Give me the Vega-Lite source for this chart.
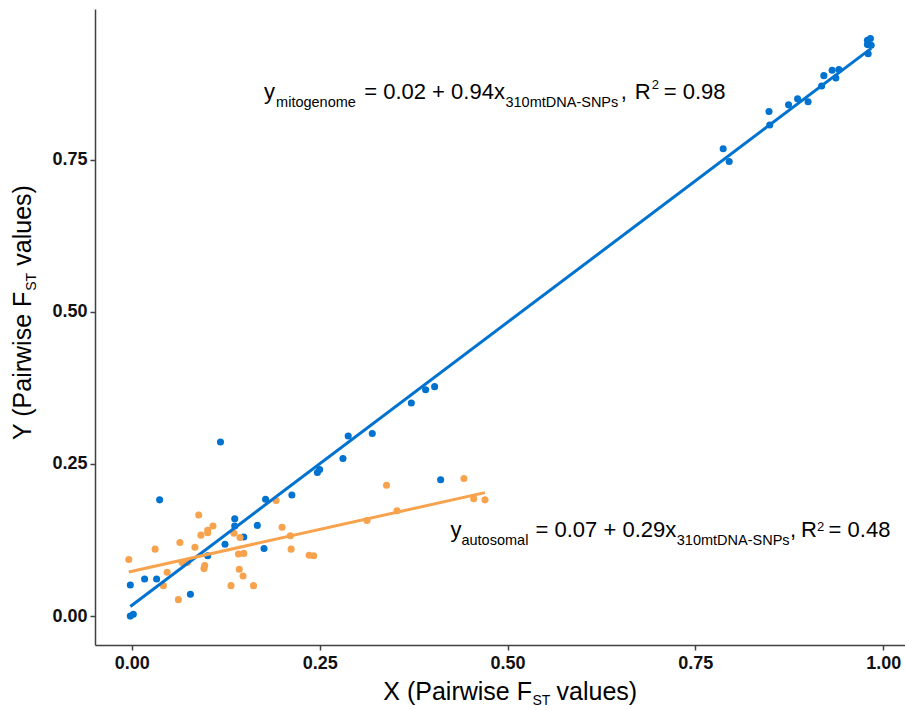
{
  "$schema": "https://vega.github.io/schema/vega-lite/v6.json",
  "width": 810,
  "height": 636,
  "autosize": {"type": "none"},
  "padding": {"left": 95, "top": 9, "right": 0, "bottom": 65},
  "background": "white",
  "config": {"view": {"stroke": null}},
  "datasets": {
    "pts": [
      {"g": "mitogenome", "x": -0.002, "y": 0.000},
      {"g": "mitogenome", "x": 0.002, "y": 0.003},
      {"g": "mitogenome", "x": -0.002, "y": 0.051},
      {"g": "mitogenome", "x": 0.017, "y": 0.061},
      {"g": "mitogenome", "x": 0.033, "y": 0.061},
      {"g": "mitogenome", "x": 0.037, "y": 0.191},
      {"g": "mitogenome", "x": 0.078, "y": 0.036},
      {"g": "mitogenome", "x": 0.101, "y": 0.099},
      {"g": "mitogenome", "x": 0.118, "y": 0.286},
      {"g": "mitogenome", "x": 0.124, "y": 0.118},
      {"g": "mitogenome", "x": 0.137, "y": 0.160},
      {"g": "mitogenome", "x": 0.137, "y": 0.148},
      {"g": "mitogenome", "x": 0.149, "y": 0.130},
      {"g": "mitogenome", "x": 0.167, "y": 0.149},
      {"g": "mitogenome", "x": 0.176, "y": 0.111},
      {"g": "mitogenome", "x": 0.178, "y": 0.192},
      {"g": "mitogenome", "x": 0.213, "y": 0.199},
      {"g": "mitogenome", "x": 0.247, "y": 0.236},
      {"g": "mitogenome", "x": 0.250, "y": 0.241},
      {"g": "mitogenome", "x": 0.281, "y": 0.259},
      {"g": "mitogenome", "x": 0.288, "y": 0.296},
      {"g": "mitogenome", "x": 0.320, "y": 0.300},
      {"g": "mitogenome", "x": 0.372, "y": 0.350},
      {"g": "mitogenome", "x": 0.391, "y": 0.372},
      {"g": "mitogenome", "x": 0.403, "y": 0.377},
      {"g": "mitogenome", "x": 0.411, "y": 0.224},
      {"g": "mitogenome", "x": 0.787, "y": 0.768},
      {"g": "mitogenome", "x": 0.795, "y": 0.747},
      {"g": "mitogenome", "x": 0.848, "y": 0.829},
      {"g": "mitogenome", "x": 0.849, "y": 0.807},
      {"g": "mitogenome", "x": 0.874, "y": 0.840},
      {"g": "mitogenome", "x": 0.886, "y": 0.850},
      {"g": "mitogenome", "x": 0.900, "y": 0.845},
      {"g": "mitogenome", "x": 0.918, "y": 0.871},
      {"g": "mitogenome", "x": 0.921, "y": 0.888},
      {"g": "mitogenome", "x": 0.932, "y": 0.897},
      {"g": "mitogenome", "x": 0.937, "y": 0.884},
      {"g": "mitogenome", "x": 0.941, "y": 0.898},
      {"g": "mitogenome", "x": 0.980, "y": 0.924},
      {"g": "mitogenome", "x": 0.979, "y": 0.939},
      {"g": "mitogenome", "x": 0.984, "y": 0.938},
      {"g": "mitogenome", "x": 0.979, "y": 0.946},
      {"g": "mitogenome", "x": 0.983, "y": 0.949},
      {"g": "autosomal", "x": 0.192, "y": 0.190},
      {"g": "autosomal", "x": 0.089, "y": 0.166},
      {"g": "autosomal", "x": 0.108, "y": 0.148},
      {"g": "autosomal", "x": 0.101, "y": 0.141},
      {"g": "autosomal", "x": 0.101, "y": 0.137},
      {"g": "autosomal", "x": 0.092, "y": 0.133},
      {"g": "autosomal", "x": 0.200, "y": 0.146},
      {"g": "autosomal", "x": 0.211, "y": 0.132},
      {"g": "autosomal", "x": 0.136, "y": 0.136},
      {"g": "autosomal", "x": 0.144, "y": 0.129},
      {"g": "autosomal", "x": 0.064, "y": 0.121},
      {"g": "autosomal", "x": 0.031, "y": 0.110},
      {"g": "autosomal", "x": 0.084, "y": 0.113},
      {"g": "autosomal", "x": 0.212, "y": 0.110},
      {"g": "autosomal", "x": 0.142, "y": 0.102},
      {"g": "autosomal", "x": 0.149, "y": 0.103},
      {"g": "autosomal", "x": 0.236, "y": 0.100},
      {"g": "autosomal", "x": 0.242, "y": 0.099},
      {"g": "autosomal", "x": -0.004, "y": 0.093},
      {"g": "autosomal", "x": 0.067, "y": 0.088},
      {"g": "autosomal", "x": 0.074, "y": 0.088},
      {"g": "autosomal", "x": 0.097, "y": 0.083},
      {"g": "autosomal", "x": 0.096, "y": 0.078},
      {"g": "autosomal", "x": 0.047, "y": 0.072},
      {"g": "autosomal", "x": 0.143, "y": 0.077},
      {"g": "autosomal", "x": 0.148, "y": 0.066},
      {"g": "autosomal", "x": 0.042, "y": 0.050},
      {"g": "autosomal", "x": 0.132, "y": 0.050},
      {"g": "autosomal", "x": 0.162, "y": 0.050},
      {"g": "autosomal", "x": 0.062, "y": 0.027},
      {"g": "autosomal", "x": 0.339, "y": 0.215},
      {"g": "autosomal", "x": 0.442, "y": 0.226},
      {"g": "autosomal", "x": 0.455, "y": 0.193},
      {"g": "autosomal", "x": 0.470, "y": 0.191},
      {"g": "autosomal", "x": 0.353, "y": 0.173},
      {"g": "autosomal", "x": 0.313, "y": 0.157}
    ],
    "labels": [
      {"t": "y", "x": 0.176, "y": 0.8503, "k": "main"},
      {"t": "mitogenome", "x": 0.192, "y": 0.8372, "k": "sub"},
      {"t": "= 0.02 + 0.94x", "x": 0.3093, "y": 0.8503, "k": "main"},
      {"t": "310mtDNA-SNPs", "x": 0.4973, "y": 0.8372, "k": "sub"},
      {"t": ",", "x": 0.6507, "y": 0.8503, "k": "main"},
      {"t": "R", "x": 0.6693, "y": 0.8503, "k": "main"},
      {"t": "2", "x": 0.692, "y": 0.866, "k": "sup"},
      {"t": "= 0.98", "x": 0.708, "y": 0.8503, "k": "main"},
      {"t": "y", "x": 0.424, "y": 0.1299, "k": "main"},
      {"t": "autosomal", "x": 0.4387, "y": 0.1168, "k": "sub"},
      {"t": "= 0.07 + 0.29x", "x": 0.5373, "y": 0.1299, "k": "main"},
      {"t": "310mtDNA-SNPs", "x": 0.7253, "y": 0.1168, "k": "sub"},
      {"t": ",", "x": 0.876, "y": 0.1299, "k": "main"},
      {"t": "R", "x": 0.8907, "y": 0.1299, "k": "main"},
      {"t": "2", "x": 0.912, "y": 0.1405, "k": "sup"},
      {"t": "= 0.48", "x": 0.9273, "y": 0.1299, "k": "main"},
      {"t": "X (Pairwise F", "x": 0.3347, "y": -0.1382, "k": "xt"},
      {"t": "ST", "x": 0.5333, "y": -0.1464, "k": "xts"},
      {"t": "values)", "x": 0.5653, "y": -0.1382, "k": "xt"},
      {"t": "Y (Pairwise F", "x": -0.1347, "y": 0.2895, "k": "yt"},
      {"t": "ST", "x": -0.128, "y": 0.5345, "k": "yts"},
      {"t": "values)", "x": -0.1347, "y": 0.5757, "k": "yt"}
    ]
  },
  "encoding": {
    "x": {
      "field": "x", "type": "quantitative",
      "scale": {"domain": [-0.049, 1.029], "nice": false, "zero": false},
      "axis": {
        "title": null, "values": [0, 0.25, 0.5, 0.75, 1], "format": ".2f", "grid": false,
        "labelFont": "Liberation Sans", "labelFontWeight": "bold", "labelFontSize": 18, "labelColor": "#111111",
        "labelPadding": 4, "tickSize": 5, "tickWidth": 1.5, "tickColor": "#404040",
        "domainColor": "#404040", "domainWidth": 1.5
      }
    },
    "y": {
      "field": "y", "type": "quantitative",
      "scale": {"domain": [-0.0475, 0.9975], "nice": false, "zero": false},
      "axis": {
        "title": null, "values": [0, 0.25, 0.5, 0.75], "format": ".2f", "grid": false,
        "labelFont": "Liberation Sans", "labelFontWeight": "bold", "labelFontSize": 18, "labelColor": "#111111",
        "labelPadding": 3, "tickSize": 5, "tickWidth": 1.5, "tickColor": "#404040",
        "domainColor": "#404040", "domainWidth": 1.5
      }
    }
  },
  "layer": [
    {
      "data": {"name": "pts"},
      "mark": {"type": "circle", "size": 50, "opacity": 1},
      "encoding": {
        "color": {"field": "g", "type": "nominal", "scale": {"domain": ["mitogenome", "autosomal"], "range": ["#0072D0", "#F7A24D"]}, "legend": null}
      }
    },
    {
      "data": {"name": "pts"},
      "transform": [{"regression": "y", "on": "x", "groupby": ["g"]}],
      "mark": {"type": "line", "strokeWidth": 3},
      "encoding": {
        "color": {"field": "g", "type": "nominal", "scale": {"domain": ["mitogenome", "autosomal"], "range": ["#0072D0", "#F7A24D"]}, "legend": null}
      }
    },
    {
      "data": {"name": "labels"},
      "transform": [{"filter": "datum.k === 'main'"}],
      "mark": {"type": "text", "align": "left", "baseline": "alphabetic", "font": "Liberation Sans", "fontSize": 22, "color": "#000000"},
      "encoding": {"text": {"field": "t"}}
    },
    {
      "data": {"name": "labels"},
      "transform": [{"filter": "datum.k === 'sub'"}],
      "mark": {"type": "text", "align": "left", "baseline": "alphabetic", "font": "Liberation Sans", "fontSize": 14.5, "color": "#000000"},
      "encoding": {"text": {"field": "t"}}
    },
    {
      "data": {"name": "labels"},
      "transform": [{"filter": "datum.k === 'sup'"}],
      "mark": {"type": "text", "align": "left", "baseline": "alphabetic", "font": "Liberation Sans", "fontSize": 13, "color": "#000000"},
      "encoding": {"text": {"field": "t"}}
    },
    {
      "data": {"name": "labels"},
      "transform": [{"filter": "datum.k === 'xt'"}],
      "mark": {"type": "text", "align": "left", "baseline": "alphabetic", "font": "Liberation Sans", "fontSize": 25, "color": "#000000"},
      "encoding": {"text": {"field": "t"}}
    },
    {
      "data": {"name": "labels"},
      "transform": [{"filter": "datum.k === 'xts'"}],
      "mark": {"type": "text", "align": "left", "baseline": "alphabetic", "font": "Liberation Sans", "fontSize": 14, "color": "#000000"},
      "encoding": {"text": {"field": "t"}}
    },
    {
      "data": {"name": "labels"},
      "transform": [{"filter": "datum.k === 'yt'"}],
      "mark": {"type": "text", "align": "left", "baseline": "alphabetic", "angle": 270, "font": "Liberation Sans", "fontSize": 25, "color": "#000000"},
      "encoding": {"text": {"field": "t"}}
    },
    {
      "data": {"name": "labels"},
      "transform": [{"filter": "datum.k === 'yts'"}],
      "mark": {"type": "text", "align": "left", "baseline": "alphabetic", "angle": 270, "font": "Liberation Sans", "fontSize": 14, "color": "#000000"},
      "encoding": {"text": {"field": "t"}}
    }
  ]
}
